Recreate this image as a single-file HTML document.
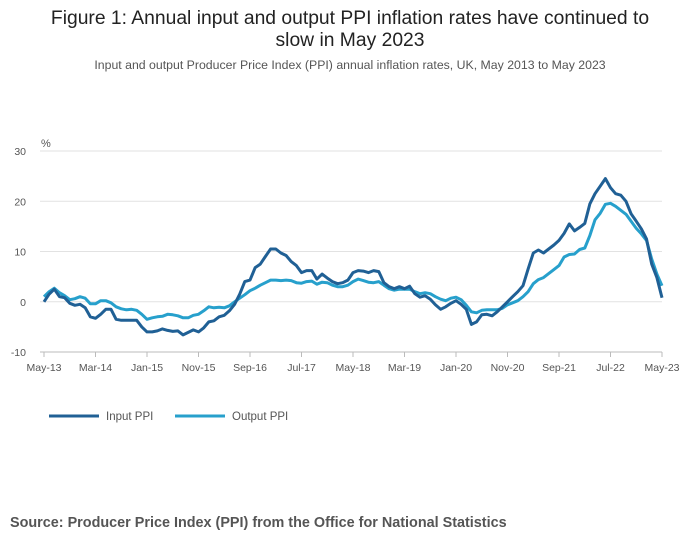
<!DOCTYPE html>
<html><head><meta charset="utf-8"><style>
body{margin:0;background:#fff;font-family:"Liberation Sans",sans-serif;}
</style></head><body>
<svg width="700" height="549" xmlns="http://www.w3.org/2000/svg" font-family="Liberation Sans, sans-serif">
<text x="350" y="24" text-anchor="middle" font-size="19.3" fill="#222">Figure 1: Annual input and output PPI inflation rates have continued to</text>
<text x="350" y="46" text-anchor="middle" font-size="19.3" fill="#222">slow in May 2023</text>
<text x="350" y="69" text-anchor="middle" font-size="12.3" fill="#555">Input and output Producer Price Index (PPI) annual inflation rates, UK, May 2013 to May 2023</text>
<text x="41" y="147" font-size="11" fill="#555">%</text>
<g id="grid"></g><g id="xaxis"></g><g id="lines"></g>
<g>
<line x1="49" y1="416" x2="99" y2="416" stroke="#206095" stroke-width="3"/>
<text x="106" y="420" font-size="11.5" fill="#555">Input PPI</text>
<line x1="175" y1="416" x2="225" y2="416" stroke="#27a0cc" stroke-width="3"/>
<text x="232" y="420" font-size="11.5" fill="#555">Output PPI</text>
</g>
<text x="10" y="527" font-size="14.4" font-weight="bold" fill="#555">Source: Producer Price Index (PPI) from the Office for National Statistics</text>
</svg>
<script>
const yTicks=[30,20,10,0,-10];
const xTickLabels=["May-13","Mar-14","Jan-15","Nov-15","Sep-16","Jul-17","May-18","Mar-19","Jan-20","Nov-20","Sep-21","Jul-22","May-23"];
const inputPPI=[0,1.5,2.5,1,0.8,-0.3,-0.7,-0.5,
-1.2,-3,-3.3,-2.5,-1.5,-1.5,-3.5,-3.7,-3.7,-3.7,-3.7,-5,
-6,-6,-5.8,-5.4,-5.7,-5.9,-5.8,-6.6,-6.1,-5.6,-6,-5.2,
-4,-3.8,-3,-2.7,-1.8,-0.5,1.5,4,4.3,6.8,7.5,9,
10.5,10.5,9.7,9.2,8,7.2,5.8,6.2,6.2,4.5,5.5,4.7,
4,3.6,3.8,4.3,5.8,6.2,6.1,5.8,6.2,6,3.8,3,
2.6,3,2.6,3.1,1.6,0.9,1.2,0.5,-0.6,-1.5,-1,-0.3,
0.2,-0.5,-1.5,-4.5,-4,-2.6,-2.5,-2.8,-2,-1,0,1,
2,3.2,6.5,9.7,10.3,9.7,10.5,11.3,12.2,13.6,15.5,14.1,
14.8,15.6,19.5,21.5,23,24.5,22.7,21.5,21.2,20,17.5,16,
14.5,12.5,7.5,4.8,0.8];
const outputPPI=[1,2,2.7,1.8,1.2,0.4,0.6,1,
0.7,-0.4,-0.4,0.2,0.2,-0.2,-1,-1.4,-1.6,-1.5,-1.7,-2.5,
-3.5,-3.2,-3,-2.9,-2.5,-2.6,-2.8,-3.2,-3.2,-2.7,-2.5,-1.8,
-1,-1.2,-1.1,-1.2,-0.8,0,0.7,1.4,2.2,2.7,3.3,3.8,
4.3,4.3,4.2,4.3,4.2,3.8,3.7,4,4.1,3.5,3.9,3.8,
3.3,3,3,3.3,4,4.5,4.2,3.9,3.8,4,3.3,2.6,
2.3,2.5,2.5,2.5,2,1.6,1.8,1.6,1,0.5,0.2,0.7,
0.9,0.4,-0.7,-2,-2.2,-1.7,-1.6,-1.6,-1.6,-1.3,-0.6,-0.2,
0.2,1,2,3.6,4.4,4.8,5.6,6.4,7.2,8.9,9.4,9.5,
10.4,10.7,13.2,16.3,17.6,19.4,19.6,19,18.2,17.4,16,14.6,
13.5,12.2,8.5,5.5,3.2];
const NS="http://www.w3.org/2000/svg";
const x0=44,x1=662,yTop=151,yBot=352;
const xs=i=>x0+(x1-x0)*i/(inputPPI.length-1);
const ys=v=>yBot-(v+10)/40*(yBot-yTop);
function mk(t,a){const e=document.createElementNS(NS,t);for(const k in a)e.setAttribute(k,a[k]);return e;}
const grid=document.getElementById('grid');
yTicks.forEach(v=>{
 const y=ys(v);
 if(v!==-10){const l=mk('line',{x1:40,x2:x1,y1:y,y2:y,stroke:'#e2e2e2','stroke-width':1});
 
 grid.appendChild(l);}
 const t=mk('text',{x:26,y:y+4,'text-anchor':'end','font-size':10.5,fill:'#555'});t.textContent=v;
 
 grid.appendChild(t);
});
const xa=document.getElementById('xaxis');
const ax=mk('line',{x1:x0-4,x2:x1,y1:yBot,y2:yBot,stroke:'#bbb','stroke-width':1});

xa.appendChild(ax);
xTickLabels.forEach((lab,k)=>{
 const x=xs(k*10);
 const tk=mk('line',{x1:x,x2:x,y1:yBot,y2:yBot+5,stroke:'#bbb'});
 
 xa.appendChild(tk);
 const t=mk('text',{x:x,y:yBot+19,'text-anchor':'middle','font-size':10.5,fill:'#555'});t.textContent=lab;
 
 xa.appendChild(t);
});
const lines=document.getElementById('lines');
[[outputPPI,'#27a0cc','output-ppi-line'],[inputPPI,'#206095','input-ppi-line']].forEach(([d,c,n])=>{
 const p=mk('polyline',{points:d.map((v,i)=>xs(i).toFixed(1)+','+ys(v).toFixed(1)).join(' '),fill:'none',stroke:c,'stroke-width':3,'stroke-linejoin':'round'});
 
 lines.appendChild(p);
});
</script>
</body></html>
